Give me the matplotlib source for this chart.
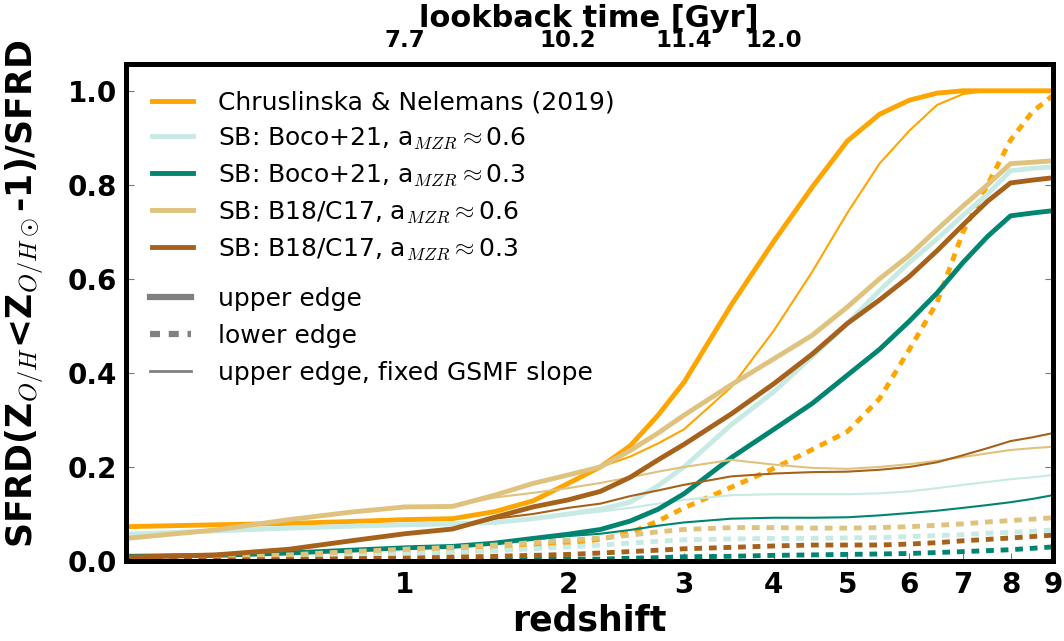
#!/usr/bin/env python3
import numpy as np
import matplotlib
matplotlib.use("Agg")
import matplotlib.pyplot as plt
from matplotlib.lines import Line2D
from matplotlib.ticker import NullLocator

plt.rcParams["font.family"] = "DejaVu Sans"
plt.rcParams["mathtext.fontset"] = "cm"

# redshift grid the curves were read on
redshift = [0, 0.25, 0.5, 0.75, 1, 1.25, 1.5, 1.75, 2, 2.25, 2.5, 2.75, 3,
            3.5, 4, 4.5, 5, 5.5, 6, 6.5, 7, 7.5, 8, 8.5, 9]

# Chruslinska & Nelemans (2019)
cn_upper = [.073, .077, .080, .084, .088, .090, .105, .128, .165, .200, .245, .310, .380,
            .545, .680, .795, .893, .950, .980, .995, 1.0, 1.0, 1.0, 1.0, 1.0]
cn_lower = [.003, .005, .008, .012, .016, .020, .024, .030, .038, .046, .060, .085, .113,
            .157, .197, .237, .275, .345, .450, .550, .700, .800, .895, .955, .990]
cn_fixed = [.073, .077, .080, .084, .088, .090, .105, .128, .165, .200, .222, .250, .280,
            .370, .490, .615, .740, .845, .915, .970, .993, 1.0, 1.0, 1.0, 1.0]

# SB: Boco+21, a_MZR ~ 0.6
boco06_upper = [.057, .064, .070, .074, .077, .079, .082, .090, .100, .110, .125, .160, .200,
                .290, .360, .435, .505, .575, .635, .685, .735, .780, .830, .835, .838]
boco06_lower = [.002, .004, .007, .011, .015, .018, .022, .026, .030, .034, .038, .042, .045,
                .047, .048, .048, .049, .050, .052, .054, .056, .059, .061, .063, .066]
boco06_fixed = [.057, .064, .070, .074, .077, .079, .080, .090, .098, .105, .113, .122, .130,
                .140, .142, .142, .142, .144, .148, .155, .162, .168, .174, .178, .183]

# SB: Boco+21, a_MZR ~ 0.3
boco03_upper = [.010, .012, .017, .023, .028, .031, .038, .048, .057, .067, .085, .110, .143,
                .220, .280, .335, .395, .450, .510, .570, .635, .690, .734, .740, .745]
boco03_lower = [.000, .000, .001, .001, .002, .002, .003, .003, .004, .004, .006, .007, .009,
                .010, .012, .013, .014, .015, .016, .018, .020, .022, .024, .027, .030]
boco03_fixed = [.010, .012, .017, .023, .028, .031, .038, .046, .053, .058, .066, .075, .082,
                .090, .092, .092, .093, .097, .102, .107, .113, .119, .125, .132, .140]

# SB: B18/C17, a_MZR ~ 0.6
b18_06_upper = [.048, .066, .088, .104, .115, .116, .140, .165, .183, .200, .235, .272, .310,
                .375, .430, .480, .540, .600, .650, .705, .755, .800, .845, .848, .851]
b18_06_lower = [.003, .007, .013, .020, .025, .029, .034, .039, .044, .049, .055, .062, .067,
                .071, .071, .070, .070, .071, .073, .076, .079, .083, .086, .089, .092]
b18_06_fixed = [.048, .066, .088, .104, .115, .116, .135, .145, .155, .166, .178, .190, .200,
                .215, .205, .198, .196, .200, .206, .213, .221, .229, .236, .240, .243]

# SB: B18/C17, a_MZR ~ 0.3
b18_03_upper = [.008, .013, .025, .043, .058, .068, .093, .115, .130, .148, .178, .215, .248,
                .313, .377, .440, .505, .555, .605, .660, .715, .765, .804, .810, .815]
b18_03_lower = [.001, .002, .003, .005, .006, .008, .010, .012, .014, .017, .020, .023, .026,
                .029, .032, .034, .034, .034, .036, .039, .043, .046, .049, .052, .055]
b18_03_fixed = [.008, .013, .025, .043, .058, .068, .090, .100, .113, .122, .138, .150, .162,
                .180, .186, .189, .190, .194, .200, .210, .225, .240, .255, .263, .272]

labels = ["Chruslinska & Nelemans (2019)",
          r"SB: Boco+21, a$_{MZR}\approx$0.6",
          r"SB: Boco+21, a$_{MZR}\approx$0.3",
          r"SB: B18/C17, a$_{MZR}\approx$0.6",
          r"SB: B18/C17, a$_{MZR}\approx$0.3"]
colors = ["#ffa500", "#c7eae5", "#018571", "#dfc27d", "#a6611a"]
models = [(cn_upper, cn_lower, cn_fixed),
          (boco06_upper, boco06_lower, boco06_fixed),
          (boco03_upper, boco03_lower, boco03_fixed),
          (b18_06_upper, b18_06_lower, b18_06_fixed),
          (b18_03_upper, b18_03_lower, b18_03_fixed)]

z_ticks = [1, 2, 3, 4, 5, 6, 7, 8, 9]
lookback_z = [1, 2, 3, 4]
lookback_labels = ["7.7", "10.2", "11.4", "12.0"]

fig = plt.figure(figsize=(10.64, 6.41), dpi=100)
ax = fig.add_axes([0.1182, 0.1248, 0.8714, 0.7754])

x = 1 + np.array(redshift)
for (up, lo, fx), c in zip(models, colors):
    ax.plot(x, up, color=c, lw=3.5, solid_capstyle="butt")
    ax.plot(x, lo, color=c, lw=3.5, dashes=(1.6, 1.4))
    ax.plot(x, fx, color=c, lw=1.5)

ax.set_xscale("log")
ax.set_xlim(1, 10)
ax.set_ylim(0, 1.057)
ax.set_xticks([1 + z for z in z_ticks])
ax.set_xticklabels([str(z) for z in z_ticks], fontsize=20, fontweight="bold")
ax.xaxis.set_minor_locator(NullLocator())
ax.set_yticks(np.arange(0, 1.01, 0.2))
ax.set_yticklabels(["%.1f" % v for v in np.arange(0, 1.01, 0.2)], fontsize=20, fontweight="bold")
ax.tick_params(axis="both", direction="in", length=6, width=0.8, color="#777777",
               right=True)
ax.tick_params(axis="x", pad=7)
ax.tick_params(axis="y", pad=6.5)

ax.set_xlabel("redshift", fontsize=25, fontweight="bold")
ax.xaxis.set_label_coords(0.5, -0.139)
ax.xaxis.label.set_va("baseline")
ax.set_ylabel(r"SFRD(Z$_{O/H}$<Z$_{O/H\odot}$-1)/SFRD", fontsize=25, fontweight="bold")
ax.yaxis.set_label_coords(-0.085, 0.537)

ax2 = ax.twiny()
ax2.set_xscale("log")
ax2.set_xlim(1, 10)
ax2.set_xticks([1 + z for z in lookback_z])
ax2.set_xticklabels(lookback_labels, fontsize=16.5, fontweight="bold")
ax2.xaxis.set_minor_locator(NullLocator())
ax2.tick_params(axis="x", direction="in", length=0, pad=8.5)
ax2.set_xlabel("lookback time [Gyr]", fontsize=22, fontweight="bold")
ax2.xaxis.set_label_coords(0.4995, 1.0734)
ax2.xaxis.label.set_va("baseline")

for a in (ax, ax2):
    for s in a.spines.values():
        s.set_linewidth(3.5)

h1 = [Line2D([], [], color=c, lw=3.5) for c in colors]
leg1 = ax.legend(h1, labels, loc="upper left", bbox_to_anchor=(0.0283, 0.947),
                 frameon=False, fontsize=18, borderpad=0, borderaxespad=0,
                 handlelength=1.65, handletextpad=1.0, labelspacing=0.45)
ax.add_artist(leg1)

h2 = [Line2D([], [], color="gray", lw=4.5),
      Line2D([], [], color="gray", lw=4.5, dashes=(1.6, 1.4)),
      Line2D([], [], color="gray", lw=2)]
ax.legend(h2, ["upper edge", "lower edge", "upper edge, fixed GSMF slope"],
          loc="upper left", bbox_to_anchor=(0.026, 0.552), frameon=False, fontsize=18,
          borderpad=0, borderaxespad=0, handlelength=1.65, handletextpad=1.08,
          labelspacing=0.52)

fig.savefig("out.png", dpi=100)
